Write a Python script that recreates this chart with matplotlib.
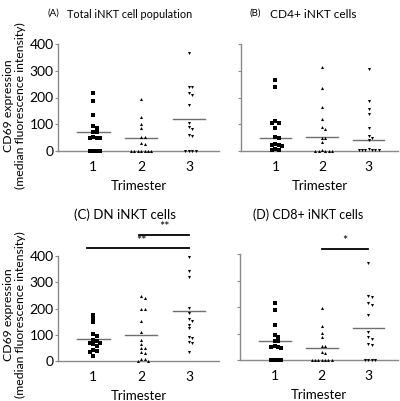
import numpy as np
import matplotlib
matplotlib.use('Agg')
import matplotlib.pyplot as plt

plt.rcParams['font.family'] = ['Lato', 'DejaVu Sans']

trimesters = [1, 2, 3]
xticklabels = ['1', '2', '3']
yticks = [0, 100, 200, 300, 400]

# (A) Total iNKT cell population
a_t1 = [215, 188, 133, 93, 85, 72, 70, 52, 50, 47, 48, 0, 0, 0, 0]
a_t2 = [196, 128, 102, 87, 54, 54, 31, 25, 0, 0, 0, 0, 0, 0, 0]
a_t3 = [365, 240, 238, 215, 208, 171, 105, 88, 81, 60, 57, 0, 0, 0, 0]
a_lines = [71, 47, 121]

# (B) CD4+ iNKT cells
b_t1 = [264, 240, 113, 105, 105, 85, 52, 49, 25, 22, 22, 20, 7, 4, 4]
b_t2 = [313, 237, 164, 118, 88, 83, 47, 47, 32, 4, 0, 0, 0, 0, 0]
b_t3 = [305, 188, 157, 138, 87, 57, 50, 42, 6, 3, 3, 3, 3, 3, 3]
b_lines = [50, 51, 41]

# (C) DN iNKT cells
c_t1 = [175, 160, 147, 102, 97, 80, 76, 70, 70, 63, 57, 42, 38, 36, 18]
c_t2 = [248, 241, 198, 198, 152, 109, 80, 65, 51, 51, 36, 29, 8, 8, 1, 1]
c_t3 = [396, 343, 320, 203, 184, 159, 152, 137, 124, 90, 88, 71, 69, 36]
c_lines = [83, 99, 190]

# (D) CD8+ iNKT cells
d_t1 = a_t1
d_t2 = a_t2
d_t3 = a_t3
d_lines = [70, 46, 119]

XPX = 47.5          # pixels per trimester unit
YPX = 107.0 / 400   # pixels per value unit
MSEP = 3.4          # min marker separation in pixels
STEP = MSEP / XPX


def swarm(vals):
    """simple beeswarm offsets"""
    order = np.argsort(vals)[::-1]
    placed = []
    offs = np.zeros(len(vals))
    for i in order:
        v = vals[i]
        for k in range(40):
            o = ((k + 1) // 2) * STEP * (1 if k % 2 else -1) if k else 0.0
            ok = all(np.hypot((o - po) * XPX, (v - pv) * YPX) >= MSEP
                     for po, pv in placed)
            if ok:
                break
        offs[i] = o
        placed.append((o, v))
    return offs


def panel(ax, groups, lines, ylabels):
    markers = ['s', '^', 'v']
    for x, vals, m, mv in zip(trimesters, groups, markers, lines):
        vals = np.array(vals, dtype=float)
        ax.plot(x + swarm(vals), vals, m, color='black', ms=2.2, mew=0,
                clip_on=False, zorder=3)
        ax.plot([x - 0.34, x + 0.34], [mv, mv], color='#707070', lw=1.0,
                zorder=2)
    ax.set_xlim(0.26, 3.63)
    ax.set_ylim(0, 400)
    ax.set_yticks(yticks)
    ax.set_xticks(trimesters)
    ax.set_xticklabels(xticklabels)
    if not ylabels:
        ax.set_yticklabels([])
    for s in ['top', 'right']:
        ax.spines[s].set_visible(False)
    for s in ['left', 'bottom']:
        ax.spines[s].set_color('#8a8a8a')
        ax.spines[s].set_linewidth(1.0)
    ax.tick_params(axis='y', length=2, width=0.8, color='#8a8a8a',
                   labelsize=10, pad=1)
    ax.tick_params(axis='x', length=0, labelsize=10, pad=7)
    ax.set_xlabel('Trimester', fontsize=9.5, labelpad=5)
    if ylabels:
        ax.set_ylabel('CD69 expression\n(median fluorescence intensity)',
                      fontsize=8.8, linespacing=1.05)


fig = plt.figure(figsize=(4.0, 4.01), dpi=100)
W, H = 400.0, 401.0


def add_ax(l, r, top, bot):
    return fig.add_axes([l / W, (H - bot) / H, (r - l) / W, (bot - top) / H])


axA = add_ax(58, 219, 44, 151)
axB = add_ax(241, 398, 44, 151)
axC = add_ax(58, 219, 256, 361)
axD = add_ax(240, 398, 254, 360)

panel(axA, [a_t1, a_t2, a_t3], a_lines, True)
panel(axB, [b_t1, b_t2, b_t3], b_lines, False)
panel(axC, [c_t1, c_t2, c_t3], c_lines, True)
panel(axD, [d_t1, d_t2, d_t3], d_lines, False)
axA.yaxis.set_label_coords(-0.2, 0.42)
axC.yaxis.set_label_coords(-0.2, 0.44)

# titles
fig.text(48 / W, 1 - 13 / H, '(A)', fontsize=7, va='center', ha='left')
fig.text(67 / W, 1 - 15 / H, 'Total iNKT cell population', fontsize=7.8,
         va='center', ha='left')
fig.text(250 / W, 1 - 13 / H, '(B)', fontsize=7, va='center', ha='left')
fig.text(270 / W, 1 - 15 / H, 'CD4+ iNKT cells', fontsize=8.6,
         va='center', ha='left')
fig.text(125 / W, 1 - 215 / H, '(C) DN iNKT cells', fontsize=9.5,
         va='center', ha='center')
fig.text(308 / W, 1 - 215 / H, '(D) CD8+ iNKT cells', fontsize=9,
         va='center', ha='center')

# significance bars
for ax, x0, x1, y, lab, tx in [(axC, 0.87, 3.0, 430, '**', 2.0),
                               (axC, 1.96, 3.0, 480, '**', 2.48),
                               (axD, 2.0, 3.0, 420, '*', 2.5)]:
    ax.plot([x0, x1], [y, y], color='black', lw=1.3, clip_on=False)
    ax.text(tx, y + 6, lab, ha='center', va='bottom', fontsize=9)

fig.savefig('out.png', dpi=100)
